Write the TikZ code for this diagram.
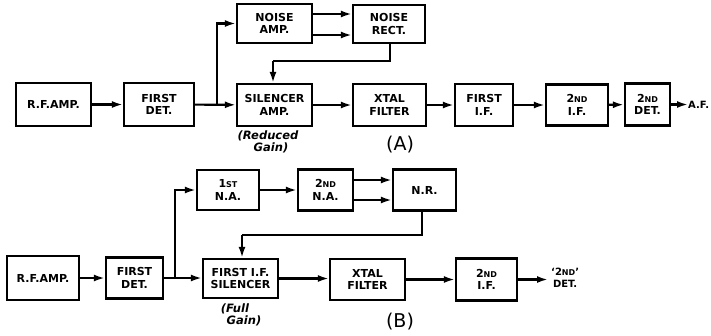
\documentclass[tikz,border=0pt]{standalone}
\usepackage{fontspec}
\setmainfont{DejaVu Sans}
\usetikzlibrary{arrows.meta,calc}
\newcommand\smc[1]{{\fontsize{8}{8}\selectfont #1}}
\begin{document}
\begin{tikzpicture}[x=1pt,y=-1pt,
  blk/.style={draw,line width=2.3pt,inner sep=0pt,align=center,
    font=\fontsize{11}{12.5}\selectfont\bfseries},
  wire/.style={line width=2.1pt},
  arr/.style={wire,-{Latex[length=11pt,width=7pt]}},
  lbl/.style={align=center,font=\fontsize{11.5}{12}\selectfont\bfseries\itshape},
  figcap/.style={font=\fontsize{19}{19}\selectfont}]
\useasboundingbox (0,0) rectangle (711,335);
% ---------- (A) ----------
\node[blk,minimum width=75pt,minimum height=43pt] (rfA) at (53.5,104.5) {R.F.AMP.};
\node[blk,minimum width=70pt,minimum height=43pt] (fdA) at (159,104.5) {FIRST\\DET.};
\node[blk,minimum width=75pt,minimum height=39pt] (naA) at (274.5,23.5) {NOISE\\AMP.};
\node[blk,minimum width=72pt,minimum height=38pt] (nrA) at (389,24) {NOISE\\RECT.};
\node[blk,minimum width=75pt,minimum height=42pt] (silA) at (274.5,105) {SILENCER\\AMP.};
\node[blk,minimum width=73pt,minimum height=42pt] (xtA) at (389.5,105) {XTAL\\FILTER};
\node[blk,minimum width=58pt,minimum height=42pt] (fifA) at (484,105) {FIRST\\I.F.};
\node[blk,minimum width=62pt,minimum height=41pt] (sifA) at (577,105) {2\smc{ND}\\I.F.};
\node[blk,minimum width=45pt,minimum height=42pt] (sdA) at (647.5,104.5) {2\smc{ND}\\DET.};
\node[font=\fontsize{10}{11}\selectfont\bfseries,inner sep=0pt,anchor=west] (afA) at (688,104.5) {A.F.};
\node[lbl] (rgA) at (268,142) {(Reduced\\\hspace*{6pt}Gain)};
\node[figcap] (capA) at (400,145) {(A)};
\coordinate (jA) at (217,104.5);
\coordinate (fbA1) at (390,61);
\coordinate (fbA2) at (273,61);
\draw[arr] (rfA) -- (fdA);
\draw[arr] (fdA) -- (silA);
\draw[arr] (jA) |- (naA.west);
\draw[arr] ([yshift=-11.5pt]naA.east) -- ([yshift=-11.5pt]naA.east -| nrA.west);
\draw[arr] ([yshift=9.5pt]naA.east) -- ([yshift=9.5pt]naA.east -| nrA.west);
\draw[wire] (nrA.south -| fbA1) -- (fbA1) -- (fbA2);
\draw[arr] (fbA2) -- (fbA2 |- silA.north);
\draw[arr] (silA) -- (xtA);
\draw[arr] (xtA) -- (fifA);
\draw[arr] (fifA) -- (sifA);
\draw[arr] (sifA) -- (sdA);
\draw[arr] (sdA) -- (afA);
% ---------- (B) ----------
\node[blk,minimum width=72pt,minimum height=44pt] (rfB) at (43,278) {R.F.AMP.};
\node[blk,minimum width=57pt,minimum height=41pt] (fdB) at (134.5,278) {FIRST\\DET.};
\node[blk,minimum width=62pt,minimum height=40pt] (n1B) at (228,190) {1\smc{ST}\\N.A.};
\node[blk,minimum width=55pt,minimum height=41pt] (n2B) at (325.5,190) {2\smc{ND}\\N.A.};
\node[blk,minimum width=63pt,minimum height=41pt] (nrB) at (424.5,190) {N.R.};
\node[blk,minimum width=75pt,minimum height=39pt] (silB) at (240.5,278.5) {FIRST I.F.\\SILENCER};
\node[blk,minimum width=75pt,minimum height=41pt] (xtB) at (367.5,279.5) {XTAL\\FILTER};
\node[blk,minimum width=61pt,minimum height=42pt] (sifB) at (486.5,279.5) {2\smc{ND}\\I.F.};
\node[font=\fontsize{10}{12}\selectfont\bfseries,inner sep=0pt,align=center,anchor=west] (sdB) at (551,277.5) {‘2\smc{ND}’\\DET.};
\node[lbl] (fgB) at (239,315) {(Full\hspace*{8pt}\\\hspace*{10pt}Gain)};
\node[figcap] (capB) at (400,322) {(B)};
\coordinate (jB) at (175,278);
\coordinate (fbB1) at (422,235);
\coordinate (fbB2) at (242,235);
\draw[arr] (rfB) -- (fdB);
\draw[arr] (fdB.east) -- (fdB.east -| silB.west);
\draw[arr] (jB) |- (n1B.west);
\draw[arr] (n1B) -- (n2B);
\draw[arr] ([yshift=-10pt]n2B.east) -- ([yshift=-10pt]n2B.east -| nrB.west);
\draw[arr] ([yshift=10pt]n2B.east) -- ([yshift=10pt]n2B.east -| nrB.west);
\draw[wire] (nrB.south -| fbB1) -- (fbB1) -- (fbB2);
\draw[arr] (fbB2) -- (fbB2 |- silB.north);
\draw[arr] (silB.east) -- (silB.east -| xtB.west);
\draw[arr] (xtB) -- (sifB);
\draw[arr] (sifB.east) -- ([xshift=-3pt]sifB.east -| sdB.west);
\end{tikzpicture}
\end{document}
